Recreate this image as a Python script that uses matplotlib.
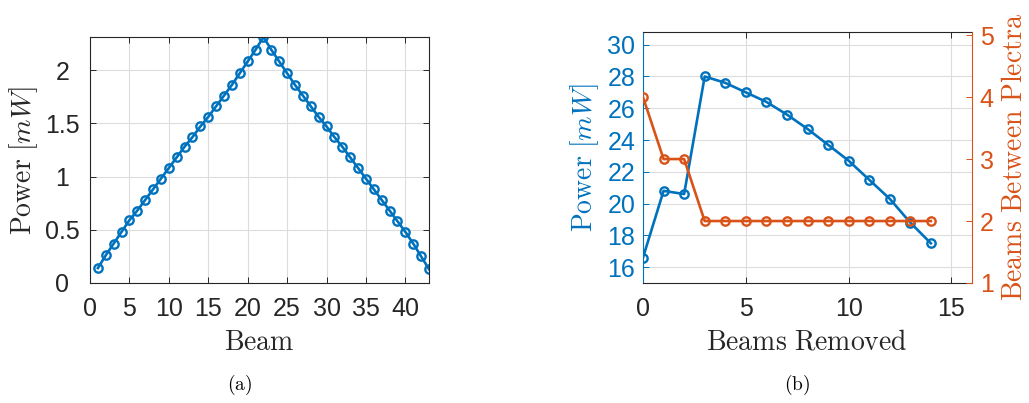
import numpy as np
import matplotlib
matplotlib.use("Agg")
import matplotlib.pyplot as plt

plt.rcParams["mathtext.fontset"] = "cm"
plt.rcParams["font.family"] = ["Liberation Sans", "DejaVu Sans"]

# (a) power per beam
beam = list(range(1, 44))
power_a = [0.14, 0.26, 0.37, 0.48, 0.59, 0.68, 0.78, 0.88, 0.98, 1.08,
           1.18, 1.28, 1.37, 1.47, 1.56, 1.66, 1.76, 1.86, 1.97, 2.08,
           2.19, 2.31,
           2.19, 2.08, 1.97, 1.86, 1.76, 1.66, 1.56, 1.47, 1.37, 1.28,
           1.18, 1.08, 0.98, 0.88, 0.78, 0.68, 0.58, 0.48, 0.37, 0.25, 0.13]

# (b) beams removed
removed = list(range(0, 15))
power_b = [16.6, 20.8, 20.6, 28.0, 27.6, 27.0, 26.4, 25.6, 24.7, 23.7,
           22.7, 21.5, 20.3, 18.8, 17.5]
between = [4, 3, 3, 2, 2, 2, 2, 2, 2, 2, 2, 2, 2, 2, 2]

BLUE = "#0072BD"
ORANGE = "#D95319"
DARK = "#262626"
W, H = 1029, 403

fig = plt.figure(figsize=(W / 100, H / 100), dpi=100)
axA = fig.add_axes([90 / W, 1 - 283 / H, 339 / W, 246 / H])
axB = fig.add_axes([643 / W, 1 - 283 / H, 329 / W, 251 / H])

def style(ax):
    ax.grid(True, color="#dcdcdc", lw=0.8)
    ax.set_axisbelow(True)
    ax.tick_params(direction="in", length=4, width=0.7, labelsize=18,
                   colors=DARK, top=True)
    ax.tick_params(axis="x", pad=10)
    ax.tick_params(axis="y", pad=5.5)
    for s in ax.spines.values():
        s.set_color(DARK); s.set_linewidth(0.8)

kw = dict(marker="o", ms=6, mfc="none", mew=1.7, lw=1.9)

# panel (a)
style(axA)
axA.tick_params(right=True)
axA.tick_params(axis="y", pad=20)
axA.plot(beam, power_a, color=BLUE, **kw)
axA.set_xlim(0, 43)
axA.set_ylim(0, 2.31)
axA.set_xticks(range(0, 45, 5))
axA.set_yticks([0, 0.5, 1, 1.5, 2])
axA.set_yticklabels(["0", "0.5", "1", "1.5", "2"], ha="center")

# panel (b)
style(axB)
axB.plot(removed, power_b, color=BLUE, **kw)
axB.set_xlim(0, 16)
axB.set_ylim(15, 30.8)
axB.set_xticks([0, 5, 10, 15])
axB.set_yticks(range(16, 31, 2))
axB.tick_params(axis="y", colors=BLUE)
axB.spines["left"].set_color(BLUE)
axB.spines["right"].set_visible(False)

axR = axB.twinx()
axR.plot(removed, between, color=ORANGE, **kw)
axR.set_ylim(1, 5.05)
axR.set_yticks([1, 2, 3, 4, 5])
axR.tick_params(direction="in", length=4, width=0.7, labelsize=18, pad=5.5,
                colors=ORANGE)
for s in ["left", "top", "bottom"]:
    axR.spines[s].set_visible(False)
axR.spines["right"].set_color(ORANGE)
axR.spines["right"].set_linewidth(0.8)

# labels
lab = dict(fontsize=20, ha="center", va="center")
fig.text(24 / W, 1 - 161 / H, r"$\mathrm{Power}\ [mW]$", rotation=90, color=DARK, **lab)
fig.text(259 / W, 1 - 343 / H, r"$\mathrm{Beam}$", color=DARK, **lab)
fig.text(585 / W, 1 - 158 / H, r"$\mathrm{Power}\ [mW]$", rotation=90, color=BLUE, **lab)
fig.text(1015 / W, 1 - 157 / H, r"$\mathrm{Beams\ Between\ Plectra}$", rotation=90,
         color=ORANGE, **lab)
fig.text(807 / W, 1 - 343 / H, r"$\mathrm{Beams\ Removed}$", color=DARK, **lab)
fig.text(240 / W, 1 - 385 / H, r"$\mathrm{(a)}$", fontsize=14, ha="center", va="center")
fig.text(797 / W, 1 - 385 / H, r"$\mathrm{(b)}$", fontsize=14, ha="center", va="center")

fig.savefig("out.png", dpi=100)
